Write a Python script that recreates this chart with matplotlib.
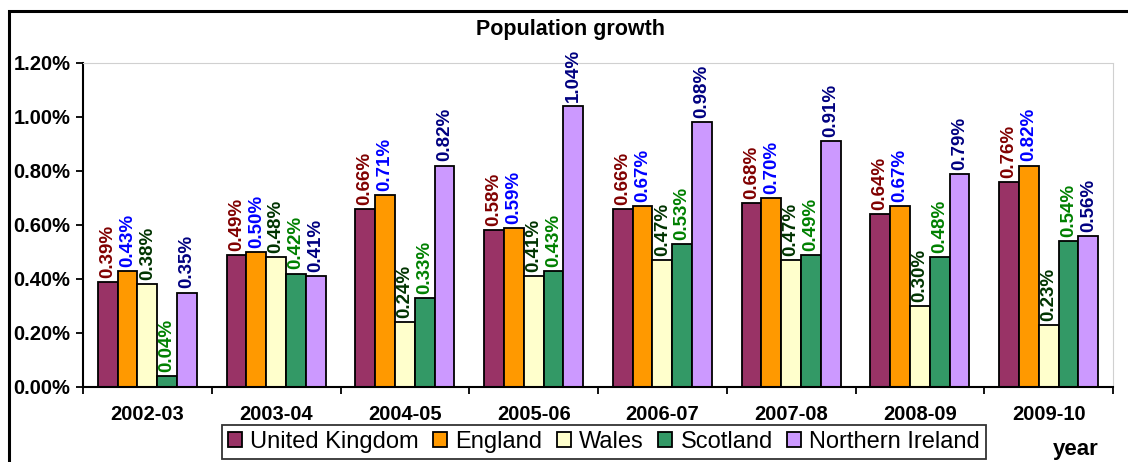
import numpy as np
import matplotlib
matplotlib.use("Agg")
import matplotlib.pyplot as plt
from matplotlib.patches import Rectangle
from matplotlib.ticker import FuncFormatter, MultipleLocator

plt.rcParams['font.family'] = ['Liberation Sans', 'DejaVu Sans']

# population growth, % per year
years = ['2002-03', '2003-04', '2004-05', '2005-06', '2006-07', '2007-08', '2008-09', '2009-10']
uk = [0.39, 0.49, 0.66, 0.58, 0.66, 0.68, 0.64, 0.76]
england = [0.43, 0.50, 0.71, 0.59, 0.67, 0.70, 0.67, 0.82]
wales = [0.38, 0.48, 0.24, 0.41, 0.47, 0.47, 0.30, 0.23]
scotland = [0.04, 0.42, 0.33, 0.43, 0.53, 0.49, 0.48, 0.54]
n_ireland = [0.35, 0.41, 0.82, 1.04, 0.98, 0.91, 0.79, 0.56]

series = [
    ('United Kingdom', uk, '#993366', '#800000'),
    ('England', england, '#FF9900', '#0000FF'),
    ('Wales', wales, '#FFFFCC', '#003300'),
    ('Scotland', scotland, '#339966', '#008000'),
    ('Northern Ireland', n_ireland, '#CC99FF', '#000080'),
]

fig = plt.figure(figsize=(11.28, 4.62), dpi=100)
ax = fig.add_axes([83 / 1128, 75 / 462, 1030 / 1128, 324 / 462])

x = np.arange(len(years))
w = 0.154
for i, (name, vals, color, lab_color) in enumerate(series):
    pos = x + (i - 2) * w
    bars = ax.bar(pos, vals, width=w, color=color, edgecolor='black',
                  linewidth=1.3, label=name)
    for b, v in zip(bars, vals):
        ax.annotate(f'{v:.2f}%', (b.get_x() + b.get_width() / 2, v),
                    xytext=(0, 3), textcoords='offset points',
                    rotation=90, ha='center', va='bottom',
                    fontsize=13.5, fontweight='bold', color=lab_color)

ax.set_xlim(-0.5, len(years) - 0.5)
ax.set_ylim(0, 1.2)
ax.yaxis.set_major_locator(MultipleLocator(0.2))
ax.yaxis.set_major_formatter(FuncFormatter(lambda v, p: f'{v:.2f}%'))
ax.set_xticks(x)
ax.set_xticklabels(years)
ax.set_xticks(np.arange(-0.5, len(years)), minor=True)
ax.tick_params(axis='x', which='major', length=0, pad=13, labelsize=14.5)
ax.tick_params(axis='x', which='minor', length=5, width=1.3, direction='out')
ax.tick_params(axis='y', length=5, width=1.3, direction='out', labelsize=14.5, pad=4)
for lab in ax.get_xticklabels() + ax.get_yticklabels():
    lab.set_fontweight('bold')

for side in ('left', 'bottom'):
    ax.spines[side].set_linewidth(1.5)
    ax.spines[side].set_color('black')
for side in ('top', 'right'):
    ax.spines[side].set_linewidth(0.8)
    ax.spines[side].set_color('#d0d0d0')
    ax.spines[side].set_linestyle((0, (1, 1)))

fig.text(571 / 1128, 1 - 29 / 462, 'Population growth', ha='center', va='center',
         fontsize=15.5, fontweight='bold')

leg = fig.legend(loc='center', bbox_to_anchor=(604 / 1128, 1 - 442 / 462), ncol=5,
                 fontsize=17, frameon=True, fancybox=False, edgecolor='black',
                 handlelength=0.6, handleheight=0.6, handletextpad=0.35,
                 columnspacing=0.6, borderpad=0.25, borderaxespad=0)
leg.get_frame().set_linewidth(1.3)

fig.text(1076 / 1128, 1 - 450 / 462, 'year', ha='center', va='center',
         fontsize=16, fontweight='bold')

# caption line above the chart frame, mostly outside the figure
fig.text(40 / 1128, 1 + 7 / 462, 'Figure 2: Population growth (UK)', ha='left',
         va='baseline', fontsize=18, fontweight='bold', color='#333333')

# outer chart frame
fig.patches.append(Rectangle((9 / 1128, -0.1), 1.2, 1 - 11 / 462 + 0.1,
                             transform=fig.transFigure, fill=False,
                             edgecolor='black', linewidth=2.2))

fig.savefig('out.png', dpi=100)
